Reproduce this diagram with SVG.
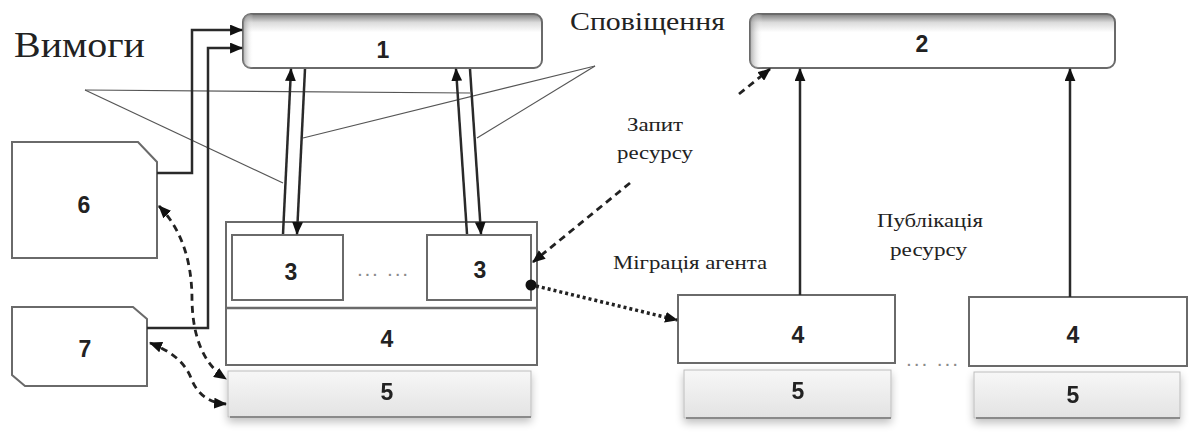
<svg xmlns="http://www.w3.org/2000/svg" width="1198" height="436" viewBox="0 0 1198 436">
  <style>
    .box { fill: #ffffff; stroke: #6a6a6a; stroke-width: 2; }
    .num { font-family: "Liberation Sans", Arial, sans-serif; font-weight: bold; font-size: 23px; fill: #222; text-anchor: middle; }
    .cap { font-family: "Liberation Serif", "Times New Roman", serif; fill: #222; }
    .dots { font-family: "Liberation Sans", Arial, sans-serif; font-size: 21px; fill: #8a8a8a; }
    .solid { fill: none; stroke: #2a2a2a; stroke-width: 2.5; }
    .thin { fill: none; stroke: #555; stroke-width: 1.2; }
    .dash { fill: none; stroke: #222; stroke-width: 2.8; stroke-dasharray: 7 5; }
    .dot { fill: none; stroke: #222; stroke-width: 3.5; stroke-dasharray: 3 3; }
  </style>
  <defs>
    <marker id="arr" viewBox="0 0 12 10" refX="11" refY="5" markerWidth="13" markerHeight="11" markerUnits="userSpaceOnUse" orient="auto-start-reverse">
      <path d="M0,0 L12,5 L0,10 z" fill="#111"/>
    </marker>
    <linearGradient id="capV" x1="0" y1="0" x2="0" y2="1">
      <stop offset="0" stop-color="#7e7e7e"/>
      <stop offset="0.16" stop-color="#dcdcdc"/>
      <stop offset="0.34" stop-color="#ffffff"/>
      <stop offset="1" stop-color="#ffffff"/>
    </linearGradient>
    <linearGradient id="capH" x1="0" y1="0" x2="1" y2="0">
      <stop offset="0" stop-color="#8a8a8a" stop-opacity="0.7"/>
      <stop offset="0.035" stop-color="#ffffff" stop-opacity="0"/>
      <stop offset="1" stop-color="#ffffff" stop-opacity="0"/>
    </linearGradient>
    <linearGradient id="base" x1="0" y1="0" x2="0" y2="1">
      <stop offset="0" stop-color="#f7f7f7"/>
      <stop offset="1" stop-color="#e3e3e3"/>
    </linearGradient>
    <filter id="halo" x="-10%" y="-30%" width="120%" height="170%">
      <feGaussianBlur in="SourceAlpha" stdDeviation="4"/>
      <feOffset dx="0" dy="4" result="b"/>
      <feComponentTransfer><feFuncA type="linear" slope="0.25"/></feComponentTransfer>
      <feMerge><feMergeNode/><feMergeNode in="SourceGraphic"/></feMerge>
    </filter>
  </defs>

  <!-- free captions -->
  <text class="cap" x="14" y="57" font-size="36" textLength="131" lengthAdjust="spacingAndGlyphs">Вимоги</text>
  <text class="cap" x="570" y="30" font-size="25" textLength="155" lengthAdjust="spacingAndGlyphs">Сповіщення</text>
  <text class="cap" x="627" y="131" font-size="18" textLength="56" lengthAdjust="spacingAndGlyphs">Запит</text>
  <text class="cap" x="617" y="159" font-size="18" textLength="76" lengthAdjust="spacingAndGlyphs">ресурсу</text>
  <text class="cap" x="613" y="269" font-size="18" textLength="154" lengthAdjust="spacingAndGlyphs">Міграція агента</text>
  <text class="cap" x="877" y="227" font-size="18" textLength="106" lengthAdjust="spacingAndGlyphs">Публікація</text>
  <text class="cap" x="890" y="256" font-size="18" textLength="77" lengthAdjust="spacingAndGlyphs">ресурсу</text>

  <!-- node 1 -->
  <g id="node1">
    <rect x="243" y="14" width="299" height="54" rx="8" fill="url(#capV)" stroke="#6a6a6a" stroke-width="2"/>
    <rect x="243" y="14" width="299" height="54" rx="8" fill="url(#capH)"/>
    <text class="num" x="383" y="58">1</text>
  </g>

  <!-- node 2 -->
  <g id="node2">
    <rect x="750" y="14" width="365" height="54" rx="8" fill="url(#capV)" stroke="#6a6a6a" stroke-width="2"/>
    <rect x="750" y="14" width="365" height="54" rx="8" fill="url(#capH)"/>
    <text class="num" x="922" y="52">2</text>
  </g>

  <!-- node 6 -->
  <g id="node6">
    <path class="box" d="M12,142 L138,142 L157,162 L157,258 L12,258 z"/>
    <text class="num" x="84" y="213">6</text>
  </g>

  <!-- node 7 -->
  <g id="node7">
    <path class="box" d="M12,307 L133,307 L147,319 L147,386 L25,386 L12,375 z"/>
    <text class="num" x="85" y="357">7</text>
  </g>

  <!-- host with agents (3) and platform (4) -->
  <g id="host-left">
    <rect class="box" x="226" y="222" width="311" height="143"/>
    <line x1="226" y1="308" x2="537" y2="308" stroke="#6a6a6a" stroke-width="2.5"/>
    <text class="num" x="387" y="347">4</text>
  </g>
  <g id="agent-left">
    <rect class="box" x="232" y="235" width="111" height="65"/>
    <text class="num" x="291" y="280">3</text>
  </g>
  <text class="dots" x="357" y="276" textLength="51" lengthAdjust="spacing">... ...</text>
  <g id="agent-right">
    <rect class="box" x="427" y="235" width="104" height="65"/>
    <text class="num" x="480" y="278">3</text>
  </g>
  <g id="base-left" filter="url(#halo)">
    <rect x="228" y="371" width="303" height="46" fill="url(#base)" stroke="#bdbdbd" stroke-width="1"/>
    <line x1="230" y1="417" x2="531" y2="417" stroke="#8a8a8a" stroke-width="2"/>
    <text class="num" x="387" y="400">5</text>
  </g>

  <!-- remote platforms -->
  <g id="platform-mid">
    <rect class="box" x="678" y="295" width="217" height="68"/>
    <text class="num" x="798" y="343">4</text>
  </g>
  <g id="base-mid" filter="url(#halo)">
    <rect x="684" y="370" width="207" height="48" fill="url(#base)" stroke="#bdbdbd" stroke-width="1"/>
    <line x1="686" y1="418" x2="891" y2="418" stroke="#8a8a8a" stroke-width="2"/>
    <text class="num" x="798" y="399">5</text>
  </g>
  <text class="dots" x="906" y="366" textLength="52" lengthAdjust="spacing">... ...</text>
  <g id="platform-right">
    <rect class="box" x="969" y="297" width="218" height="69"/>
    <text class="num" x="1073" y="343">4</text>
  </g>
  <g id="base-right" filter="url(#halo)">
    <rect x="974" y="372" width="206" height="46" fill="url(#base)" stroke="#bdbdbd" stroke-width="1"/>
    <line x1="976" y1="418" x2="1180" y2="418" stroke="#8a8a8a" stroke-width="2"/>
    <text class="num" x="1073" y="403">5</text>
  </g>

  <!-- connectors -->
  <g id="connectors">
    <!-- caption leader lines -->
    <path class="thin" d="M85,90 L470,93"/>
    <path class="thin" d="M85,90 L283,183"/>
    <path class="thin" d="M595,66 L303,138"/>
    <path class="thin" d="M595,66 L477,138"/>

    <!-- requirements into 1 -->
    <path class="solid" d="M157,173 L192,173 L192,30 L242,30" marker-end="url(#arr)"/>
    <path class="solid" d="M147,328 L208,328 L208,48 L242,48" marker-end="url(#arr)"/>

    <!-- agents <-> 1 -->
    <path class="solid" d="M283,234 L291,69" marker-end="url(#arr)"/>
    <path class="solid" d="M305,69 L297,234" marker-end="url(#arr)"/>
    <path class="solid" d="M467,234 L456,69" marker-end="url(#arr)"/>
    <path class="solid" d="M470,69 L481,234" marker-end="url(#arr)"/>

    <!-- publication into 2 -->
    <path class="solid" d="M800,295 L800,69" marker-end="url(#arr)"/>
    <path class="solid" d="M1070,297 L1070,69" marker-end="url(#arr)"/>

    <!-- notification into 2 -->
    <path class="dash" d="M739,94 L770,69" marker-end="url(#arr)"/>

    <!-- resource request into agent -->
    <path class="dash" d="M630,183 L533,262" marker-end="url(#arr)"/>

    <!-- agent migration -->
    <circle cx="531" cy="285" r="5.5" fill="#111"/>
    <path class="dot" d="M536,286 L677,320" marker-end="url(#arr)"/>

    <!-- 6/7 <-> 5 -->
    <path class="dash" d="M159,206 Q192,240 192,300 Q193,357 226,379" marker-start="url(#arr)" marker-end="url(#arr)"/>
    <path class="dash" d="M150,343 Q182,355 191,378 Q200,402 226,404" marker-start="url(#arr)" marker-end="url(#arr)"/>
  </g>
</svg>
